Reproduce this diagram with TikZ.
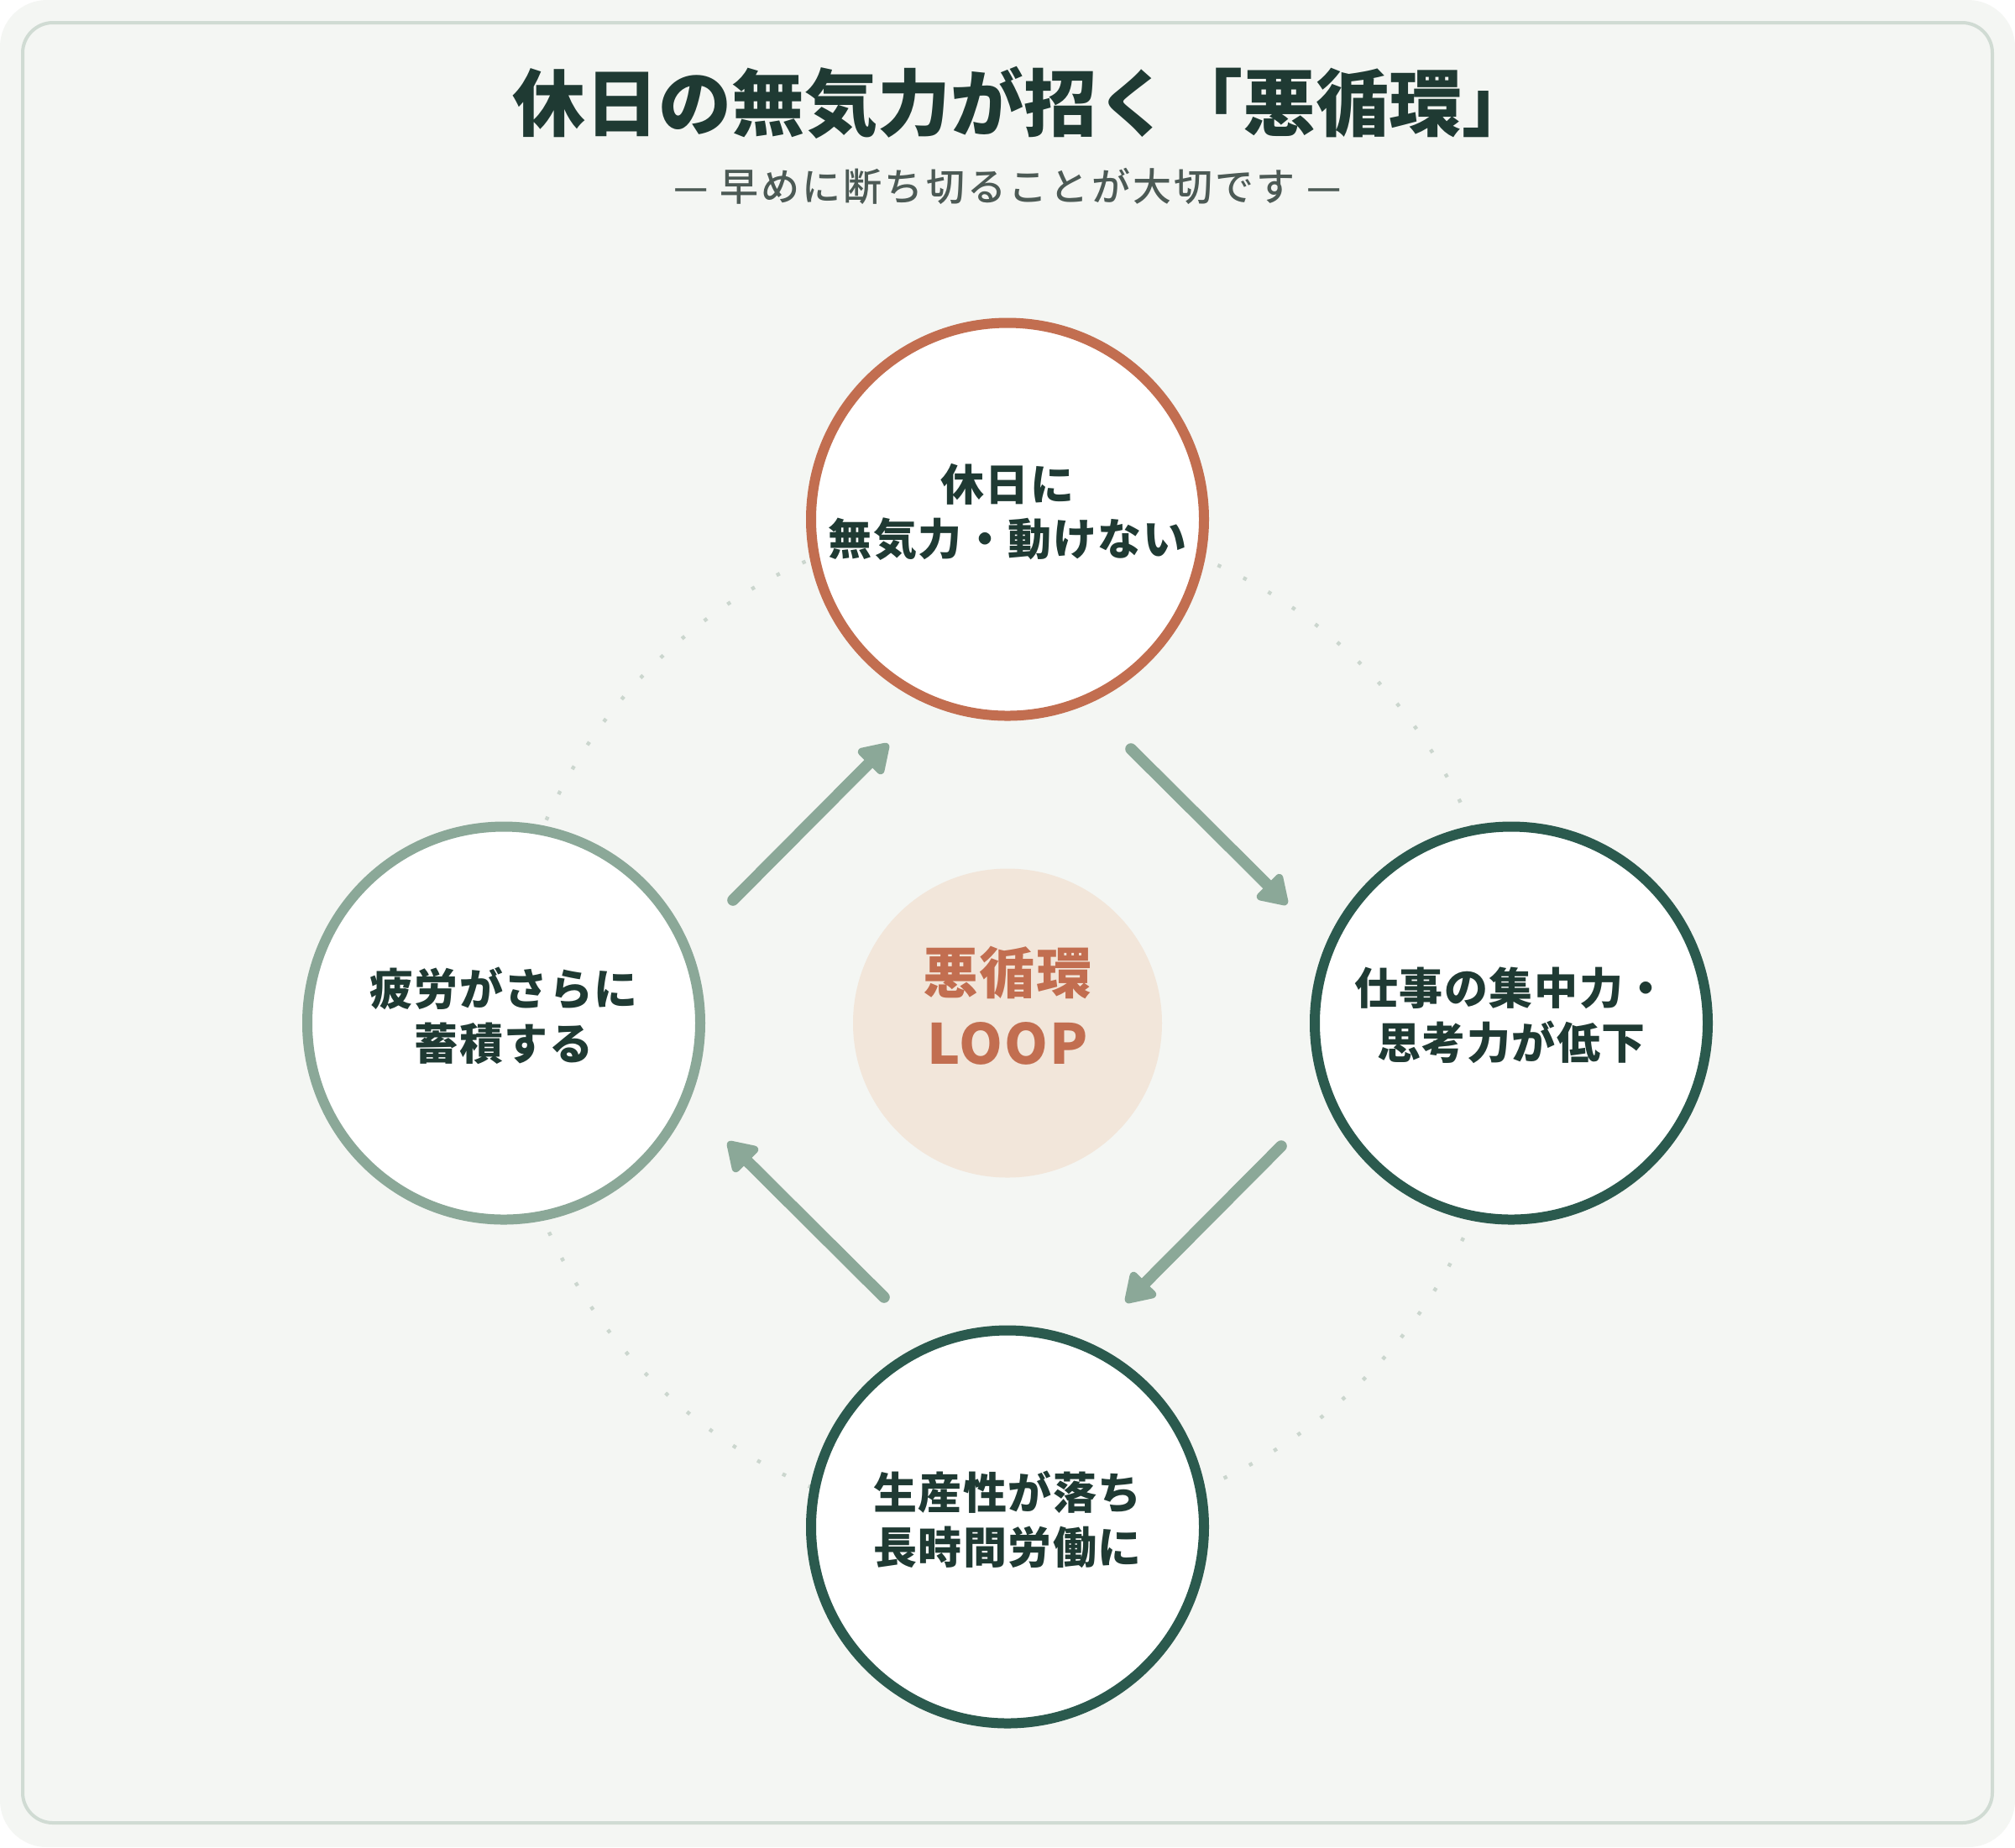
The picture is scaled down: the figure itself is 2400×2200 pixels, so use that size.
\documentclass[tikz,border=0pt]{standalone}
\usepackage{fontspec}
\setmainfont{Noto Sans CJK JP}
\newfontfamily\medfont{Noto Sans CJK JP Medium}
\usetikzlibrary{arrows.meta}
\definecolor{bgc}{HTML}{F4F6F3}
\definecolor{borderc}{HTML}{D0DBD3}
\definecolor{terra}{HTML}{C26E50}
\definecolor{darkg}{HTML}{2B5A4E}
\definecolor{sage}{HTML}{8BA898}
\definecolor{txt}{HTML}{1F3A33}
\definecolor{subc}{HTML}{4C5A55}
\definecolor{peach}{HTML}{F2E6DA}
\definecolor{dotc}{HTML}{CBD6CE}
\tikzset{
  stage/.style={circle, draw, fill=white, line width=3pt, minimum size=117pt, inner sep=0pt},
  stagetext/.style={align=center, text=txt, inner sep=0pt,
    font=\bfseries\fontsize{13}{16.25}\selectfont\addfontfeatures{LetterSpace=3}},
  flow/.style={draw=sage, line width=3.4pt, line cap=round,
    -{Triangle[length=9.5pt, width=11.5pt, round]}},
}
\begin{document}
\begin{tikzpicture}[x=0.25pt, y=-0.25pt]
\useasboundingbox (0,0) rectangle (2400,2200);
\fill[white] (0,0) rectangle (2400,2200);
\fill[bgc, rounded corners=14pt] (0,0) rectangle (2400,2200);
\draw[borderc, line width=1pt, rounded corners=9pt] (27,27) rectangle (2373,2171);

\node[text=txt, font=\bfseries\fontsize{21.75}{26}\selectfont] (title) at (1219,122) {休日の無気力が招く「悪循環」};
\node[text=subc, font=\medfont\fontsize{11.5}{14}\selectfont\addfontfeatures{LetterSpace=7}] (sub) at (1200,222) {— 早めに断ち切ることが大切です —};

\coordinate (ctr) at (1200,1218.5);
\draw[dotc, line width=1.1pt, dash pattern=on 1.1pt off 7.4pt] (ctr) circle [radius=150pt];

\node[circle, fill=peach, minimum size=92pt, inner sep=0pt] (loop) at (ctr) {};
\node[align=center, text=terra, inner sep=0pt,
  font=\bfseries\fontsize{16.5}{21}\selectfont\addfontfeatures{LetterSpace=3}] (looptext) at ([yshift=5.25pt]loop.center) {悪循環\\LOOP};

\node[stage, draw=terra] (top) at (1200,618.5) {};
\node[stage, draw=darkg] (right) at (1800,1218.5) {};
\node[stage, draw=darkg] (bottom) at (1200,1818.5) {};
\node[stage, draw=sage] (left) at (600,1218.5) {};
\node[stagetext] (topt) at ([yshift=2.25pt]top.center) {休日に\\無気力・動けない};
\node[stagetext] (rightt) at ([yshift=2.25pt]right.center) {仕事の集中力・\\思考力が低下};
\node[stagetext] (bottomt) at ([yshift=2.25pt]bottom.center) {生産性が落ち\\長時間労働に};
\node[stagetext] (leftt) at ([yshift=2.25pt]left.center) {疲労がさらに\\蓄積する};

\coordinate (a1s) at (1347,892);   \coordinate (a1e) at (1533,1077);
\coordinate (a2s) at (1526,1365);  \coordinate (a2e) at (1341,1551);
\coordinate (a3s) at (1053,1545);  \coordinate (a3e) at (867,1360);
\coordinate (a4s) at (873,1072);   \coordinate (a4e) at (1058,886);
\draw[flow] (a1s) -- (a1e);
\draw[flow] (a2s) -- (a2e);
\draw[flow] (a3s) -- (a3e);
\draw[flow] (a4s) -- (a4e);
\end{tikzpicture}
\end{document}
